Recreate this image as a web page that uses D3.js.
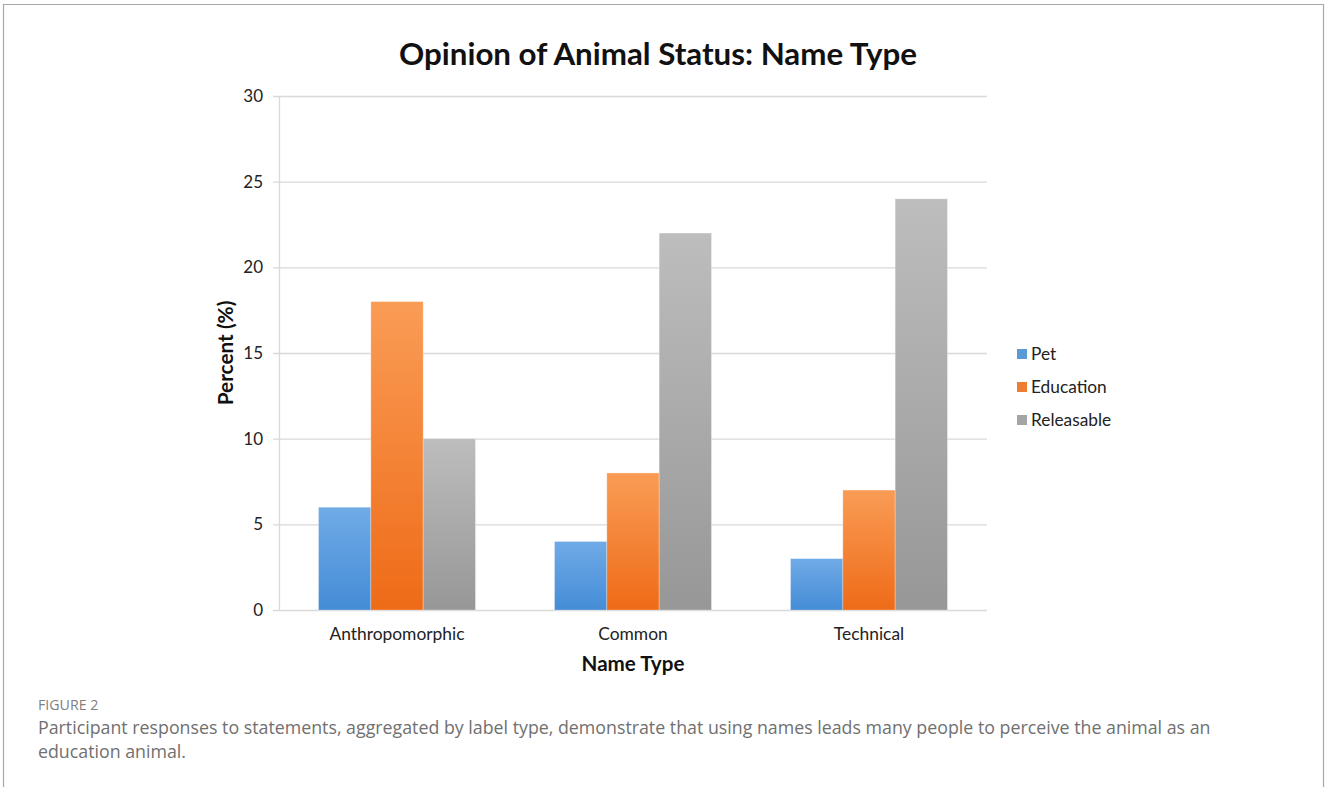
<!DOCTYPE html>
<html><head><meta charset="utf-8">
<script src="https://cdn.jsdelivr.net/npm/d3@7/dist/d3.min.js"></script>
<style>
body{margin:0;background:#fff;}
svg{display:block;}
</style></head>
<body>
<script>
const categories = ["Anthropomorphic", "Common", "Technical"];
const seriesNames = ["Pet", "Education", "Releasable"];
const petValues = [6, 4, 3];
const educationValues = [18, 8, 7];
const releasableValues = [10, 22, 24];
const yTicks = [0, 5, 10, 15, 20, 25, 30];
const titleText = "Opinion of Animal Status: Name Type";
const xTitle = "Name Type";
const yTitle = "Percent (%)";
const figLabel = "FIGURE 2";
const captionLines = ["Participant responses to statements, aggregated by label type, demonstrate that using names leads many people to perceive the animal as an", "education animal."];

const seriesValues = [petValues, educationValues, releasableValues];
const gradStops = [["#70abe6", "#448cd7"], ["#fa9c56", "#ee6b17"], ["#bdbdbd", "#979797"]];
const legendColors = ["#5b9bd5", "#ed7d31", "#a5a5a5"];

const W = 1327, H = 787;
const svg = d3.select("body").append("svg").attr("width", W).attr("height", H);
const fontChart = "Lato, 'Open Sans', sans-serif";

// figure border
svg.append("path").attr("d", `M3.5,${H} V4.5 H1323.5 V${H}`).attr("fill", "none").attr("stroke", "#a8a8a8").attr("stroke-width", 1.2);

const defs = svg.append("defs");
gradStops.forEach((s, i) => {
  const g = defs.append("linearGradient").attr("id", "g" + i).attr("x1", 0).attr("y1", 0).attr("x2", 0).attr("y2", 1);
  g.append("stop").attr("offset", "0%").attr("stop-color", s[0]);
  g.append("stop").attr("offset", "100%").attr("stop-color", s[1]);
});

const pLeft = 279, pRight = 987, pTop = 96, pBottom = 610;
const x0 = d3.scaleBand().domain(categories).range([pLeft, pRight]).paddingInner(0.335).paddingOuter(0.1675);
const x1 = d3.scaleBand().domain(seriesNames).range([0, x0.bandwidth()]);
const y = d3.scaleLinear().domain([0, 30]).range([pBottom, pTop]);

// gridlines
svg.append("g").selectAll("line").data(yTicks).join("line")
  .attr("x1", pLeft - 6).attr("x2", pRight)
  .attr("y1", d => y(d) + 0.5).attr("y2", d => y(d) + 0.5)
  .attr("stroke", "#d9d9d9").attr("stroke-width", 1.3);
// y axis line
svg.append("line").attr("x1", pLeft + 0.5).attr("x2", pLeft + 0.5).attr("y1", pTop).attr("y2", pBottom)
  .attr("stroke", "#d9d9d9").attr("stroke-width", 1.3);

// tick labels
svg.append("g").selectAll("text").data(yTicks).join("text")
  .attr("x", 263).attr("y", d => y(d)).attr("dy", "0.35em")
  .attr("text-anchor", "end").attr("font-family", fontChart).attr("font-size", 17).attr("fill", "#222")
  .text(d => d);

// bars
const groups = svg.append("g").selectAll("g").data(categories).join("g")
  .attr("transform", d => `translate(${x0(d)},0)`);
groups.selectAll("rect").data((c, ci) => seriesNames.map((s, si) => ({s, si, v: seriesValues[si][ci]}))).join("rect")
  .attr("x", d => x1(d.s)).attr("width", x1.bandwidth())
  .attr("y", d => y(d.v)).attr("height", d => y(0) - y(d.v))
  .attr("fill", d => `url(#g${d.si})`)
  .attr("stroke", "rgba(255,255,255,0.35)").attr("stroke-width", 0.8);

// category labels
svg.append("g").selectAll("text").data(categories).join("text")
  .attr("x", d => x0(d) + x0.bandwidth() / 2).attr("y", 640)
  .attr("text-anchor", "middle").attr("font-family", fontChart).attr("font-size", 17.4).attr("fill", "#222")
  .text(d => d);

// axis titles
svg.append("text").attr("x", 633).attr("y", 671).attr("text-anchor", "middle")
  .attr("font-family", fontChart).attr("font-weight", "bold").attr("font-size", 20.6).attr("fill", "#111").text(xTitle);
svg.append("text").attr("transform", "translate(233,353) rotate(-90)").attr("text-anchor", "middle")
  .attr("font-family", fontChart).attr("font-weight", "bold").attr("font-size", 20.8).attr("fill", "#111").text(yTitle);

// chart title
svg.append("text").attr("x", 658).attr("y", 65).attr("text-anchor", "middle")
  .attr("font-family", fontChart).attr("font-weight", "bold").attr("font-size", 31.3).attr("fill", "#111").text(titleText);

// legend
const leg = svg.append("g").selectAll("g").data(seriesNames).join("g")
  .attr("transform", (d, i) => `translate(1017,${354 + i * 33})`);
leg.append("rect").attr("x", 0).attr("y", -5).attr("width", 10).attr("height", 10)
  .attr("fill", (d, i) => legendColors[i]);
leg.append("text").attr("x", 14).attr("y", 0).attr("dy", "0.35em")
  .attr("font-family", fontChart).attr("font-size", 17.3).attr("fill", "#222").text(d => d);

// caption
svg.append("text").attr("x", 38).attr("y", 710).attr("font-family", "'Open Sans', sans-serif")
  .attr("font-size", 14.2).attr("fill", "#808080").text(figLabel);
svg.selectAll("text.cap").data(captionLines).join("text").attr("class", "cap")
  .attr("x", 38).attr("y", (d, i) => 734 + i * 24)
  .attr("font-family", "'Open Sans', sans-serif").attr("font-size", 17.8).attr("fill", "#707070").text(d => d);
</script>
</body></html>
